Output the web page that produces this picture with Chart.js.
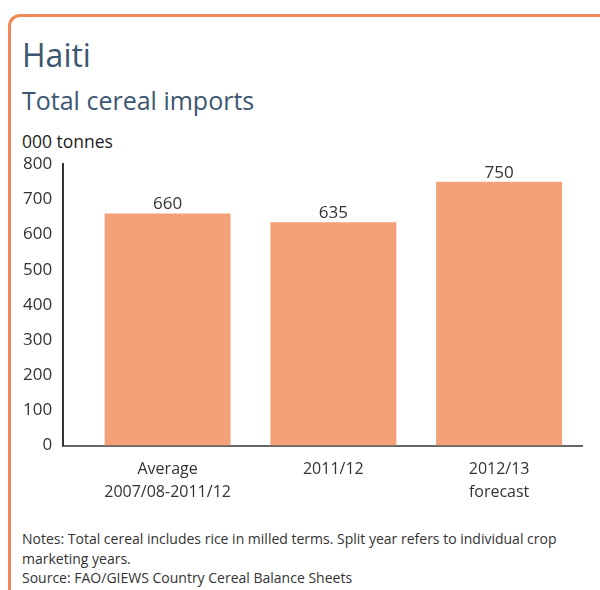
<!DOCTYPE html>
<html>
<head>
<meta charset="utf-8">
<script src="https://cdn.jsdelivr.net/npm/chart.js@4"></script>
<style>
  body { margin: 0; width: 600px; height: 590px; background: #fff; font-family: "Open Sans", sans-serif; position: relative; overflow: hidden; }
  #frame { position: absolute; left: 8px; top: 14px; width: 620px; height: 620px; border-left: 3px solid #ef8a56; border-top: 3px solid #ef8a56; border-top-left-radius: 12px; }
  .txt { position: absolute; left: 22px; white-space: nowrap; }
  #title { top: 38px; font-size: 32px; line-height: 34px; color: #3d5670; }
  #subtitle { top: 88px; font-size: 25px; line-height: 25px; color: #3d5670; }
  #unit { top: 131px; font-size: 17.5px; line-height: 20px; color: #222; }
  #notes { top: 529px; font-size: 14px; line-height: 19.5px; color: #333; }
  #wrap { position: absolute; left: 0; top: 143px; width: 600px; height: 373px; }
</style>
</head>
<body>
<div id="frame"></div>
<div class="txt" id="title">Haiti</div>
<div class="txt" id="subtitle">Total cereal imports</div>
<div class="txt" id="unit">000 tonnes</div>
<div id="wrap"><canvas id="chart"></canvas></div>
<div class="txt" id="notes">Notes: Total cereal includes rice in milled terms. Split year refers to individual crop<br>marketing years.<br>Source: FAO/GIEWS Country Cereal Balance Sheets</div>
<script>
const categories = [["Average", "2007/08-2011/12"], "2011/12", ["2012/13", "forecast"]];
const imports = [660, 635, 750];
const yTicks = [0, 100, 200, 300, 400, 500, 600, 700, 800];

const valueLabels = {
  id: "valueLabels",
  afterDatasetsDraw(chart) {
    const ctx = chart.ctx;
    ctx.save();
    ctx.font = "17px 'Open Sans'";
    ctx.fillStyle = "#333";
    ctx.textAlign = "center";
    ctx.textBaseline = "alphabetic";
    chart.getDatasetMeta(0).data.forEach((bar, i) => {
      ctx.fillText(imports[i], bar.x, bar.y - 4);
    });
    ctx.restore();
  },
};

new Chart(document.getElementById("chart"), {
  type: "bar",
  data: {
    datasets: [{
      data: imports.map((v, i) => ({ x: i, y: v })),
      backgroundColor: "#f4a078",
      categoryPercentage: 1,
      barPercentage: 0.76,
    }],
  },
  options: {
    responsive: true,
    maintainAspectRatio: false,
    animation: false,
    layout: { padding: { left: 12, right: 18, top: 6, bottom: 0 } },
    plugins: { legend: { display: false }, tooltip: { enabled: false } },
    scales: {
      x: {
        type: "linear",
        offset: false,
        min: -0.63,
        max: 2.5,
        afterBuildTicks: (s) => { s.ticks = categories.map((c, i) => ({ value: i })); },
        grid: { display: false, drawTicks: false },
        border: { display: true, color: "#666", width: 2 },
        ticks: {
          padding: 12,
          color: "#333",
          font: { family: "'Open Sans'", size: 16, lineHeight: 1.45 },
          maxRotation: 0,
          autoSkip: false,
          callback: (v) => categories[v],
        },
      },
      y: {
        min: 0,
        max: 800,
        afterBuildTicks: (s) => { s.ticks = yTicks.map((v) => ({ value: v })); },
        grid: { display: false, drawTicks: false },
        border: { display: true, color: "#333", width: 2 },
        ticks: {
          padding: 11,
          color: "#333",
          font: { family: "'Open Sans'", size: 17 },
        },
      },
    },
  },
  plugins: [valueLabels],
});
</script>
</body>
</html>
